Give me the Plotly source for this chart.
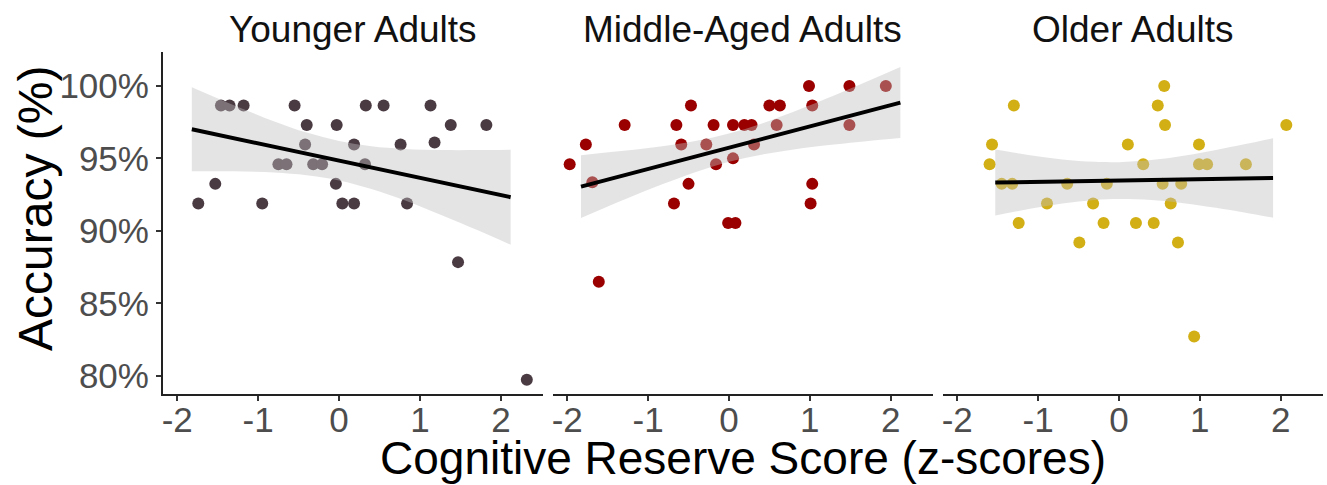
import plotly.graph_objects as go

W, H = 1327, 485

# ---------------- data ----------------
panels = ["Younger Adults", "Middle-Aged Adults", "Older Adults"]
colors = ["#4A3A42", "#9A0000", "#D2AF14"]

young_x = [-1.46, -1.354, -1.18, -0.55, 0.33, 0.55, 1.13,
           -0.40, -0.03, 1.38, 1.82,
           -0.42, 0.185, 0.76, 1.18,
           -0.75, -0.65, -0.32, -0.21, 0.32,
           -1.53, -0.04,
           -1.74, -0.95, 0.04, 0.185, 0.84,
           1.47, 2.32]
young_y = [98.65, 98.65, 98.65, 98.65, 98.65, 98.65, 98.65,
           97.30, 97.30, 97.30, 97.30,
           95.95, 95.95, 95.95, 96.10,
           94.59, 94.59, 94.59, 94.59, 94.59,
           93.24, 93.24,
           91.89, 91.89, 91.89, 91.89, 91.89,
           87.84, 79.73]

middle_x = [0.99, 1.49, 1.94,
            -0.47, 0.50, 0.63, 1.03,
            -1.29, -0.65, -0.19, 0.05, 0.19, 0.28, 0.59, 1.49,
            -1.77, -0.59, -0.28, 0.31,
            0.05,
            -1.97, -0.16,
            -1.69, -0.50, 1.03,
            -0.68, 1.01,
            -0.01, 0.08,
            -1.61]
middle_y = [100.0, 100.0, 100.0,
            98.65, 98.65, 98.65, 98.65,
            97.30, 97.30, 97.30, 97.30, 97.30, 97.30, 97.30, 97.30,
            95.95, 95.95, 95.95, 95.95,
            95.00,
            94.59, 94.59,
            93.35, 93.24, 93.24,
            91.89, 91.89,
            90.54, 90.54,
            86.49]

older_x = [0.56,
           -1.30, 0.48,
           0.57, 2.07,
           -1.57, 0.11, 0.99,
           -1.60, 0.30, 0.99, 1.09, 1.57,
           -1.45, -1.32, -0.64, -0.15, 0.54, 0.77,
           -0.89, -0.32, 0.64,
           -1.24, -0.19, 0.21, 0.43,
           -0.49, 0.73,
           0.93]
older_y = [100.0,
           98.65, 98.65,
           97.30, 97.30,
           95.95, 95.95, 95.95,
           94.59, 94.59, 94.59, 94.59, 94.59,
           93.24, 93.24, 93.24, 93.24, 93.24, 93.24,
           91.89, 91.89, 91.89,
           90.54, 90.54, 90.54, 90.54,
           89.19, 89.19,
           82.70]

# regression lines (end points)
young_fit_x = [-1.82, 2.12]
young_fit_y = [97.01, 92.32]
middle_fit_x = [-1.83, 2.12]
middle_fit_y = [93.05, 98.85]
older_fit_x = [-1.53, 1.906]
older_fit_y = [93.33, 93.65]

# confidence bands
young_band_x = [-1.82, -1.3, -0.8, -0.4, 0.0, 0.4, 0.8, 1.3, 1.7, 2.12]
young_band_lo = [94.11, 94.11, 94.03, 93.84, 93.48, 92.89, 92.13, 91.01, 90.07, 89.04]
young_band_hi = [99.91, 98.67, 97.55, 96.78, 96.20, 95.83, 95.65, 95.57, 95.57, 95.60]

middle_band_x = [-1.83, -1.3, -0.8, -0.4, 0.0, 0.4, 0.8, 1.3, 1.7, 2.12]
middle_band_lo = [90.88, 92.14, 93.26, 94.08, 94.76, 95.25, 95.61, 95.95, 96.18, 96.40]
middle_band_hi = [95.22, 95.52, 95.86, 96.22, 96.72, 97.39, 98.21, 99.33, 100.28, 101.30]

older_band_x = [-1.53, -1.1, -0.7, -0.3, 0.0, 0.4, 0.8, 1.2, 1.55, 1.906]
older_band_lo = [91.05, 91.52, 91.88, 92.13, 92.20, 92.13, 91.91, 91.59, 91.27, 90.91]
older_band_hi = [95.61, 95.22, 94.93, 94.76, 94.74, 94.88, 95.18, 95.58, 95.97, 96.39]

x_ticks = [-2, -1, 0, 1, 2]
x_tick_labels = ["-2", "-1", "0", "1", "2"]
y_ticks = [80, 85, 90, 95, 100]
y_tick_labels = ["80%", "85%", "90%", "95%", "100%"]

# ---------------- figure ----------------
points = [(young_x, young_y), (middle_x, middle_y), (older_x, older_y)]
fits = [(young_fit_x, young_fit_y), (middle_fit_x, middle_fit_y), (older_fit_x, older_fit_y)]
bands = [(young_band_x, young_band_lo, young_band_hi),
         (middle_band_x, middle_band_lo, middle_band_hi),
         (older_band_x, older_band_lo, older_band_hi)]

fig = go.Figure()
axes = ["x", "x2", "x3"]
for i in range(3):
    xa = axes[i]
    px_, py_ = points[i]
    fig.add_trace(go.Scatter(x=px_, y=py_, mode="markers", xaxis=xa, yaxis="y",
                             marker=dict(size=12, color=colors[i], line=dict(width=0)),
                             showlegend=False, hoverinfo="skip"))
    bx, blo, bhi = bands[i]
    fig.add_trace(go.Scatter(x=bx, y=blo, mode="lines", xaxis=xa, yaxis="y",
                             line=dict(width=0, shape="spline", color="rgba(0,0,0,0)"),
                             showlegend=False, hoverinfo="skip"))
    fig.add_trace(go.Scatter(x=bx, y=bhi, mode="lines", xaxis=xa, yaxis="y",
                             line=dict(width=0, shape="spline", color="rgba(0,0,0,0)"),
                             fill="tonexty", fillcolor="rgba(190,190,190,0.42)",
                             showlegend=False, hoverinfo="skip"))
    fx, fy = fits[i]
    fig.add_trace(go.Scatter(x=fx, y=fy, mode="lines", xaxis=xa, yaxis="y",
                             line=dict(width=4, color="black"),
                             showlegend=False, hoverinfo="skip"))

# pixel-based domains
left_px = [162.7, 552.7, 942.7]
right_px = [543.0, 932.7, 1322.7]
top_px, bot_px = 52.0, 394.0

FONT = "Arial, Liberation Sans, sans-serif"
tickfont = dict(family=FONT, size=35, color="#4D4D4D")
axis_common = dict(range=[-2.18, 2.52], tickvals=x_ticks, ticktext=x_tick_labels,
                   showline=True, linecolor="#222222", linewidth=1.5,
                   ticks="outside", ticklen=5, tickwidth=1.5, tickcolor="#333333",
                   showgrid=False, zeroline=False, tickfont=tickfont, automargin=False,
                   ticklabelstandoff=-11, fixedrange=True)

layout = dict(
    width=W, height=H,
    margin=dict(l=0, r=0, t=0, b=0),
    paper_bgcolor="white", plot_bgcolor="white",
    showlegend=False,
    yaxis=dict(domain=[1 - bot_px / H, 1 - top_px / H], range=[78.74, 102.34], anchor="x",
               tickvals=y_ticks, ticktext=y_tick_labels,
               showline=True, linecolor="#222222", linewidth=1.5,
               ticks="outside", ticklen=5, tickwidth=1.5, tickcolor="#333333",
               showgrid=False, zeroline=False, tickfont=tickfont, automargin=False),
)
for i, name in enumerate(["xaxis", "xaxis2", "xaxis3"]):
    d = dict(axis_common)
    d["domain"] = [left_px[i] / W, right_px[i] / W]
    d["anchor"] = "y"
    layout[name] = d

annotations = []
for i, t in enumerate(panels):
    annotations.append(dict(text=t, x=(left_px[i] + right_px[i]) / 2 / W, y=1 - 29 / H,
                            xref="paper", yref="paper", xanchor="center", yanchor="middle",
                            showarrow=False,
                            font=dict(family=FONT, size=37, color="#111111")))
annotations.append(dict(text="Cognitive Reserve Score (z-scores)", x=743 / W, y=0,
                        xref="paper", yref="paper", xanchor="center", yanchor="bottom",
                        showarrow=False, borderpad=0,
                        font=dict(family=FONT, size=46, color="black")))
annotations.append(dict(text="Accuracy (%)", x=35 / W, y=1 - 209 / H, textangle=-90,
                        xref="paper", yref="paper", xanchor="center", yanchor="middle",
                        showarrow=False,
                        font=dict(family=FONT, size=48, color="black")))
layout["annotations"] = annotations

fig.update_layout(**layout)
fig.write_html("out.html")
